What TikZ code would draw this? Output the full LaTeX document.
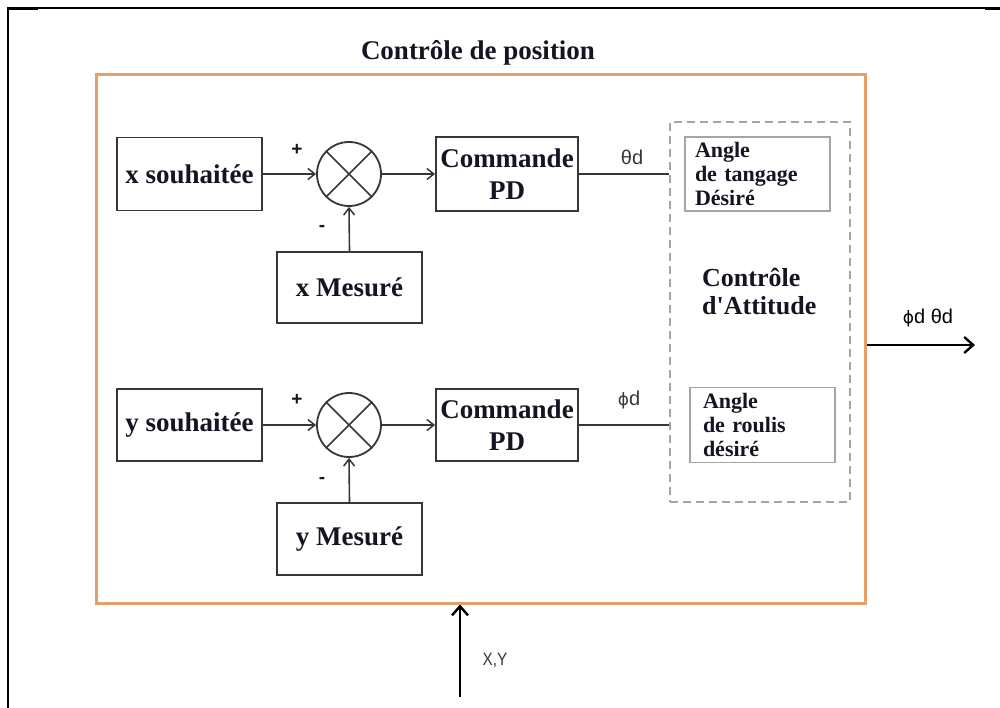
\documentclass[tikz,border=0pt]{standalone}
\usepackage{fontspec}
\setmainfont{Liberation Serif}[Ligatures=TeXOff]
\newfontfamily\lsans{Liberation Sans}
\newfontfamily\dvsans{DejaVu Sans}
\usetikzlibrary{arrows.meta}
\definecolor{orng}{RGB}{228,160,104}
\definecolor{dk}{RGB}{55,55,55}
\definecolor{gry}{RGB}{165,165,165}
\definecolor{txt}{RGB}{20,20,35}
\newcommand{\vphi}{{\dvsans\fontsize{17}{19}\selectfont ϕ}}
\begin{document}
\begin{tikzpicture}[x=1pt,y=-1pt,
  blk/.style={draw=dk, line width=1.8pt, minimum width=145pt, minimum height=73pt, inner sep=0pt,
    align=center, text=txt, font=\bfseries\fontsize{27}{32}\selectfont},
  sumc/.style={draw=dk, line width=1.8pt, circle, minimum size=64pt, inner sep=0pt},
  inbox/.style={draw=gry, line width=1.5pt, minimum height=74pt, inner xsep=10pt, inner ysep=0pt,
    align=left, text=txt, font=\bfseries\fontsize{22}{24}\selectfont},
  sig/.style={font=\lsans\fontsize{20}{22}\selectfont, text=dk},
  pm/.style={font=\lsans\bfseries\fontsize{19}{21}\selectfont, text=txt},
  conn/.style={draw=dk, line width=1.6pt},
  arr/.style={conn, -{Straight Barb[length=7pt,width=11pt,line width=1.5pt]}},
  bigarr/.style={draw=black, line width=2.6pt, -{Straight Barb[length=9pt,width=16pt,line width=2.4pt]}}
]
\useasboundingbox (0,0) rectangle (1000,708);
% page frame
\draw[line width=1.5pt] (7,8) -- (1000,8);
\draw[line width=3pt] (7,8.5) -- (38,8.5);
\draw[line width=3pt] (985,9) -- (1000,9);
\draw[line width=2.5pt] (8,7) -- (8,708);

% title and outer box
\node[font=\bfseries\fontsize{27}{30}\selectfont, text=txt] (title) at (478,53) {Contrôle de position};
\node[draw=orng, line width=3pt, minimum width=769pt, minimum height=528pt, inner sep=0pt] (obox) at (480.5,339) {};

% attitude dashed box
\node[draw=gry, line width=1.5pt, dash pattern=on 8pt off 5pt, minimum width=180pt, minimum height=380pt, inner sep=0pt] (dbox) at (760,312) {};
\node[inbox, text width=125pt] (tang) at (757.5,174) {Angle\\de tangage\\Désiré};
\node[inbox, text width=119pt, inner xsep=13pt, minimum height=75pt] (roul) at (762.5,425) {Angle\\de roulis\\désiré};
\node[anchor=west, align=left, text=txt, font=\bfseries\fontsize{26}{28}\selectfont, inner sep=0pt] (att) at (702,291) {Contrôle\\d'Attitude};

% x channel
\node[blk] (xs) at (189.5,174) {x souhaitée};
\node[sumc] (sx) at (349,174) {};
\draw[conn] (sx.north west) -- (sx.south east) (sx.north east) -- (sx.south west);
\node[blk, minimum width=142pt, minimum height=74pt] (cx) at (507,174) {Commande\\PD};
\node[blk, minimum height=71pt] (xm) at (349.5,287.5) {x Mesuré};
\draw[arr] (xs.east) -- (sx.west);
\draw[arr] (sx.east) -- (cx.west);
\draw[arr] (xm.north) -- (sx.south);
\draw[conn] (cx.east) -- (cx.east -| dbox.west);
\node[pm] (px) at (297,150) {+};
\node[pm] (mx) at (322,228) {-};
\node[sig] (thd) at (632,157) {θd};

% y channel
\node[blk, minimum height=72pt] (ys) at (189.5,425) {y souhaitée};
\node[sumc] (sy) at (349,425) {};
\draw[conn] (sy.north west) -- (sy.south east) (sy.north east) -- (sy.south west);
\node[blk, minimum width=142pt, minimum height=72pt] (cy) at (507,425) {Commande\\PD};
\node[blk, minimum height=72pt] (ym) at (349.5,539) {y Mesuré};
\draw[arr] (ys.east) -- (sy.west);
\draw[arr] (sy.east) -- (cy.west);
\draw[arr] (ym.north) -- (sy.south);
\draw[conn] (cy.east) -- (cy.east -| dbox.west);
\node[pm] (py) at (297,400) {+};
\node[pm] (my) at (322,480) {-};
\node[sig] (phd) at (629,400) {\vphi d};

% output and input
\coordinate (out) at (975,345);
\draw[bigarr] (obox.east |- out) -- (out);
\node[sig, text=black] (outl) at (928,318) {\vphi d θd};
\coordinate (xyin) at (460,697);
\draw[bigarr, line width=2.2pt] (xyin) -- (xyin |- obox.south);
\node[sig, font=\lsans\fontsize{18}{20}\selectfont, xscale=0.85] (xyl) at (495,660) {X,Y};
\end{tikzpicture}
\end{document}
